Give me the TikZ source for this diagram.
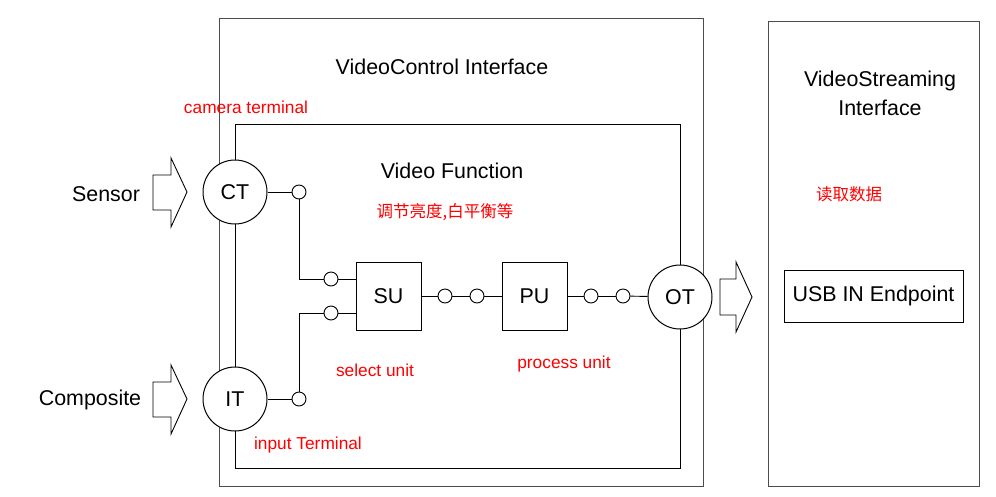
\documentclass[tikz,border=0pt]{standalone}
\usepackage{fontspec}
\setmainfont{Liberation Sans}
\newfontfamily\cjk{Noto Sans CJK SC}
\begin{document}
\begin{tikzpicture}[x=1pt,y=-1pt,
  boxline/.style={draw=black!70, line width=1pt},
  term/.style={circle, draw, fill=white, line width=1pt, minimum size=64pt, inner sep=0pt, font=\fontsize{21.4}{25}\selectfont},
  pin/.style={circle, draw, fill=white, line width=0.9pt, minimum size=14pt, inner sep=0pt},
  unitbox/.style={draw, fill=white, line width=1pt, minimum width=65pt, minimum height=68pt, inner sep=0pt, font=\fontsize{21.4}{25}\selectfont},
  lbl/.style={font=\fontsize{21.4}{25}\selectfont, inner sep=0pt},
  redlbl/.style={font=\fontsize{17.3}{20}\selectfont, text=red, inner sep=0pt},
  redcjk/.style={font=\cjk\fontsize{16.5}{20}\selectfont, text=red, inner sep=0pt},
  wire/.style={draw, line width=0.9pt}
]
\useasboundingbox (0,0) rectangle (996,496);
% boxes
\draw[boxline] (219,18) rectangle (703,486);
\draw[boxline] (768,21) rectangle (979,486);
\draw[line width=1pt] (235,124) rectangle (680,468);
% block arrows
\draw[line width=0.9pt, fill=white] (153,175) -- (171,175) -- (171,158) -- (187,192) -- (171,227) -- (171,210) -- (153,210) -- cycle;
\draw[line width=0.9pt, fill=white] (153,382) -- (171,382) -- (171,365) -- (187,399) -- (171,434) -- (171,417) -- (153,417) -- cycle;
\draw[line width=0.9pt, fill=white] (720,279) -- (736,279) -- (736,262) -- (752,297) -- (736,332) -- (736,315) -- (720,315) -- cycle;
% nodes
\node[term] (ct) at (235,192) {CT};
\node[term] (it) at (235,399) {IT};
\node[term] (ot) at (680,297) {OT};
\node[unitbox] (su) at (388.5,296) {SU};
\node[unitbox] (pu) at (534.5,296) {PU};
\node[draw, line width=1pt, minimum width=179pt, minimum height=52pt, inner sep=0pt, font=\fontsize{21.4}{25}\selectfont] (usb) at (873.5,296) {USB IN Endpoint};
\node[pin] (c1) at (299,192) {};
\node[pin] (i1) at (299,399) {};
\node[pin] (s1) at (331,279) {};
\node[pin] (s2) at (331,313) {};
\node[pin] (d1) at (445,296) {};
\node[pin] (d2) at (477,296) {};
\node[pin] (d3) at (591,296) {};
\node[pin] (d4) at (623,296) {};
% wires
\draw[wire] (ct) -- (c1);
\draw[wire] (c1) |- (s1);
\draw[wire] (s1) -- (s1 -| su.west);
\draw[wire] (it) -- (i1);
\draw[wire] (i1) |- (s2);
\draw[wire] (s2) -- (s2 -| su.west);
\draw[wire] (su) -- (d1);
\draw[wire] (d1) -- (d2);
\draw[wire] (d2) -- (pu);
\draw[wire] (pu) -- (d3);
\draw[wire] (d3) -- (d4);
\draw[wire] (d4) -- (ot);
% labels
\node[lbl] (t1) at (442,67) {VideoControl Interface};
\node[lbl] (t2) at (452,171) {Video Function};
\node[lbl] (t3) at (106,194) {Sensor};
\node[lbl] (t4) at (90,400) {Composite};
\node[lbl] (t5) at (880,81) {VideoStreaming};
\node[lbl] (t6) at (880,108) {Interface};
\node[redlbl] (r1) at (246,107) {camera terminal};
\node[redlbl] (r2) at (375,370) {select unit};
\node[redlbl] (r3) at (564,364) {process unit};
\node[redlbl] (r4) at (308,445) {input Terminal};
\node[redcjk] (r5) at (445,212) {调节亮度,白平衡等};
\node[redcjk] (r6) at (849,194) {读取数据};
\end{tikzpicture}
\end{document}
